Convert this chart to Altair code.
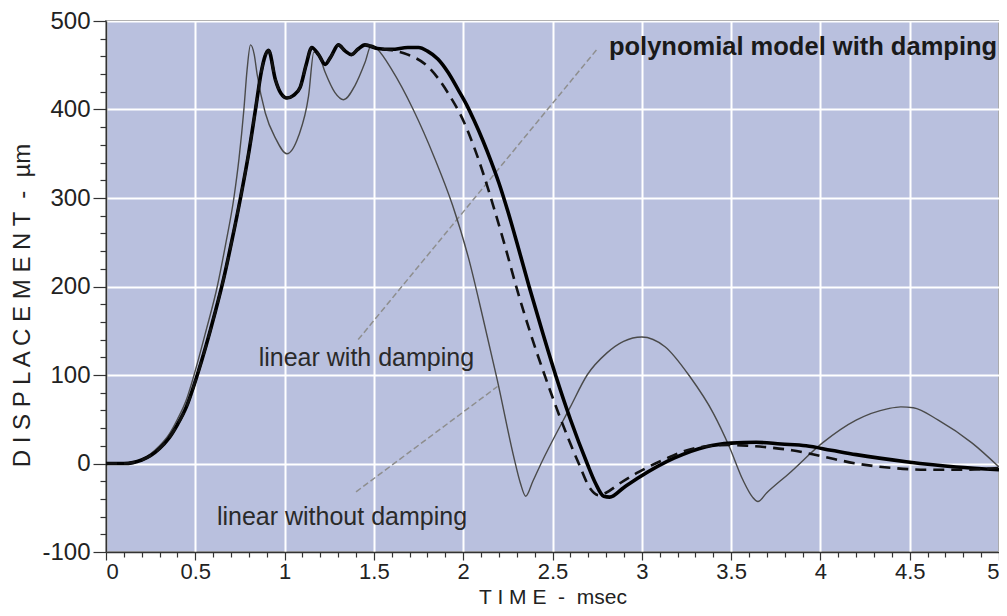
import altair as alt
import pandas as pd

# ---- data ----
poly_t = [0, 0.1, 0.15, 0.2, 0.25, 0.3, 0.35, 0.4, 0.45, 0.511,
          0.56, 0.61, 0.66, 0.705, 0.753, 0.80, 0.837, 0.87, 0.89, 0.91,
          0.948, 0.98, 1.013, 1.05, 1.087, 1.12, 1.152, 1.19, 1.227, 1.26,
          1.301, 1.34, 1.375, 1.41, 1.45, 1.52, 1.6, 1.69, 1.75, 1.8,
          1.858, 1.915, 1.97, 2.02, 2.06, 2.11, 2.155, 2.20, 2.25, 2.30,
          2.369, 2.44, 2.517, 2.60, 2.694, 2.74, 2.787, 2.82, 2.9, 2.99,
          3.18, 3.36, 3.5, 3.64, 3.78, 3.92, 4.06, 4.2, 4.48, 4.76,
          5.0]
poly_v = [0, 0, 1, 4, 9, 17, 28, 44, 64, 100,
          133, 170, 210, 252, 300, 352, 400, 443, 460, 467,
          434, 418, 413, 416, 425, 450, 470, 462, 451, 460,
          473, 466, 462, 468, 473, 469, 468, 470, 470, 466,
          457, 442, 423, 405, 388, 365, 342, 317, 285, 250,
          200, 151, 100, 50, 0, -22, -37, -38, -27, -15,
          6, 19, 23, 24, 22, 20, 15, 10, 2, -4,
          -7]

lin_t = [0, 0.1, 0.15, 0.2, 0.25, 0.3, 0.35, 0.4, 0.45, 0.511,
         0.56, 0.61, 0.66, 0.705, 0.753, 0.80, 0.837, 0.87, 0.89, 0.91,
         0.948, 0.98, 1.013, 1.05, 1.087, 1.12, 1.152, 1.19, 1.227, 1.26,
         1.301, 1.34, 1.375, 1.41, 1.45, 1.52, 1.6, 1.69, 1.80, 1.914,
         2.006, 2.06, 2.115, 2.17, 2.235, 2.304, 2.38, 2.461, 2.55, 2.647,
         2.71, 2.76, 2.80, 2.88, 2.97, 3.12, 3.29, 3.49, 3.6, 3.72,
         3.84, 4.01, 4.2, 4.4, 4.59, 4.8, 5.0]
lin_v = [0, 0, 1, 4, 9, 17, 28, 44, 64, 100,
         133, 170, 210, 252, 300, 352, 400, 443, 460, 467,
         434, 418, 413, 416, 425, 450, 470, 462, 451, 460,
         473, 466, 462, 468, 473, 469, 467, 462, 449, 419,
         385, 358, 326, 290, 245, 195, 145, 97, 48, 0,
         -28, -36, -33, -22, -11, 4, 17, 21, 20, 18,
         15, 8, 0, -5, -7, -7, -5]

undamped_t = [0, 0.1, 0.15, 0.2, 0.25, 0.3, 0.35, 0.4, 0.45, 0.493,
              0.56, 0.623, 0.67, 0.716, 0.745, 0.772, 0.79, 0.809, 0.83, 0.846,
              0.892, 0.948, 1.013, 1.078, 1.134, 1.164, 1.19, 1.227, 1.282, 1.33,
              1.394, 1.45, 1.486, 1.52, 1.6, 1.72, 1.84, 1.94, 2.03, 2.11,
              2.19, 2.286, 2.32, 2.35, 2.39, 2.436, 2.6, 2.694, 2.805, 2.898,
              3.0, 3.13, 3.27, 3.40, 3.49, 3.567, 3.62, 3.65, 3.7, 3.826,
              4.01, 4.2, 4.38, 4.45, 4.52, 4.66, 4.85, 5.0]
undamped_v = [0, 0, 1, 5, 11, 20, 32, 50, 72, 100,
              150, 200, 248, 300, 345, 400, 445, 473, 462, 440,
              396, 368, 350, 370, 415, 465, 462, 442, 419, 411,
              427, 453, 473, 468, 445, 400, 345, 292, 232, 165,
              95, 5, -22, -37, -20, 0, 64, 100, 125, 138,
              143, 132, 98, 57, 19, -19, -38, -43, -33, -11,
              23, 49, 62, 64, 63, 49, 23, -4]

x_ticks = [round(0.1 * i, 1) for i in range(51)]
y_ticks = list(range(-100, 501, 20))

label_text = ["polynomial model with damping", "linear with damping", "linear without damping"]
label_t = [2.816, 0.855, 0.621]
label_v = [471, 119, -60]
label_weight = ["bold", "normal", "normal"]

leader_t = [1.412, 1.40]
leader_v = [140, -32]
leader_t2 = [2.749, 2.192]
leader_v2 = [468, 87]

FONT = "Liberation Sans, Arial, Helvetica, sans-serif"
x_major = "abs(datum.value*2 - round(datum.value*2)) < 0.001"
y_major = "abs(datum.value % 100) < 0.001"

xaxis = alt.Axis(
    values=x_ticks,
    title="T I M E \u00a0-\u00a0 msec",
    labelExpr=f"({x_major}) ? format(datum.value, '~g') : ''",
    tickSize={"condition": {"test": x_major, "value": 8}, "value": 5},
    gridOpacity={"condition": {"test": x_major, "value": 1}, "value": 0},
    labelPadding=1, labelFlush=True, labelOverlap=False, labelFontSize=22,
    titleY=51, titleBaseline="alphabetic", titleFontSize=21,
)
yaxis = alt.Axis(
    values=y_ticks,
    title="D I S P L A C E M E N T \u00a0-\u00a0 µm",
    labelExpr=f"({y_major}) ? toString(datum.value) : ''",
    tickSize={"condition": {"test": y_major, "value": 13}, "value": 6},
    gridOpacity={"condition": {"test": y_major, "value": 1}, "value": 0},
    labelPadding=3, labelOverlap=False, labelFontSize=24,
    titleX=-84, titleY=284, titleAngle=270, titleAlign="center", titleBaseline="middle",
    titleFontSize=24,
)

X = alt.X("t:Q", scale=alt.Scale(domain=[0, 5], nice=False, zero=False), axis=xaxis)
Y = alt.Y("v:Q", scale=alt.Scale(domain=[-100, 500], nice=False, zero=False), axis=yaxis)

df_poly = pd.DataFrame({"t": poly_t, "v": poly_v})
df_lin = pd.DataFrame({"t": lin_t, "v": lin_v})
df_und = pd.DataFrame({"t": undamped_t, "v": undamped_v})
df_lab = pd.DataFrame({"t": label_t, "v": label_v, "text": label_text, "w": label_weight})
df_lead = pd.DataFrame({"t": leader_t, "v": leader_v, "t2": leader_t2, "v2": leader_v2})

leaders = alt.Chart(df_lead).mark_rule(color="#8e8e8e", strokeWidth=1.5, strokeDash=[6, 3]).encode(
    x=X, y=Y, x2="t2:Q", y2="v2:Q")

undamped = alt.Chart(df_und).mark_line(color="#4a4a4a", strokeWidth=1.4, interpolate="monotone").encode(x=X, y=Y)
poly = alt.Chart(df_poly).mark_line(color="#000000", strokeWidth=3.6, interpolate="monotone").encode(x=X, y=Y)
lin = alt.Chart(df_lin).mark_line(color="#111111", strokeWidth=2.6, strokeDash=[11, 7],
                                  interpolate="monotone").encode(x=X, y=Y)

labels_bold = alt.Chart(df_lab[df_lab.w == "bold"]).mark_text(
    align="left", baseline="middle", font=FONT, fontSize=25.5, fontWeight="bold", color="#1a1a1a"
).encode(x=X, y=Y, text="text:N")
labels_norm = alt.Chart(df_lab[df_lab.w == "normal"]).mark_text(
    align="left", baseline="middle", font=FONT, fontSize=25, color="#2a2a2a"
).encode(x=X, y=Y, text="text:N")

chart = alt.layer(leaders, undamped, poly, lin, labels_bold, labels_norm).properties(
    width=893, height=531,
    autosize=alt.AutoSizeParams(type="none"),
    padding={"left": 98, "top": 13, "right": 0, "bottom": 56},
    background="white",
).configure_view(
    fill="#b9c0de", stroke="#333333", strokeWidth=1.5
).configure_axis(
    labelFont=FONT, labelColor="#222222",
    titleFont=FONT, titleFontWeight="normal", titleColor="#222222",
    domainColor="#333333", domainWidth=1.5, tickColor="#333333", tickWidth=1.2,
    gridColor="white", gridWidth=2,
)

chart.save("out.html", embed_options={"renderer": "svg", "actions": False})
